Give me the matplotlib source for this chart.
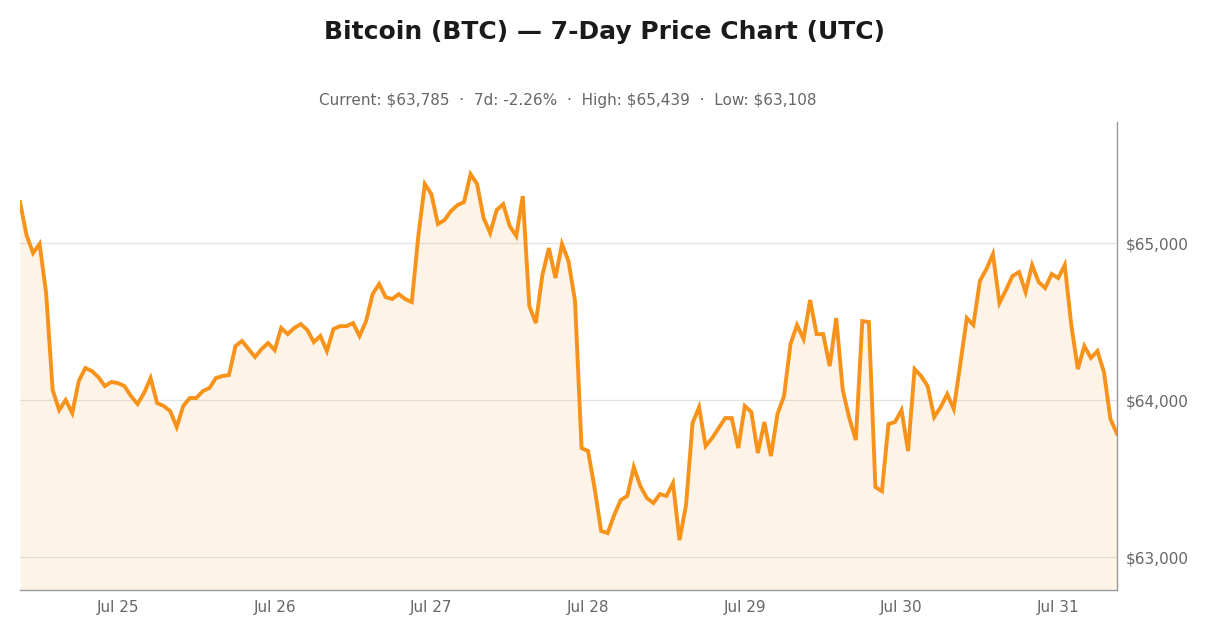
import numpy as np
import matplotlib
matplotlib.use("Agg")
import matplotlib.pyplot as plt
import matplotlib.dates as mdates
from matplotlib.ticker import FuncFormatter
import datetime as dt

plt.rcParams["font.family"] = ["DejaVu Sans"]

# Hourly BTC prices (USD), Jul 24 09:00 UTC -> Jul 31 09:00 UTC
prices = [
    65261, 65051, 64936, 64994, 64682, 64064, 63936, 64000, 63917, 64121,
    64204, 64185, 64146, 64089, 64115, 64108, 64089, 64025, 63975, 64045,
    64140, 63981, 63962, 63930, 63828, 63962, 64013, 64013, 64057, 64076,
    64140, 64153, 64159, 64344, 64376, 64325, 64274, 64325, 64363, 64318,
    64459, 64420, 64459, 64484, 64446, 64369, 64408, 64312, 64452, 64471,
    64471, 64490, 64408, 64503, 64675, 64739, 64656, 64643, 64675, 64643,
    64624, 65045, 65376, 65312, 65121, 65146, 65204, 65242, 65261, 65439,
    65376, 65159, 65064, 65210, 65248, 65108, 65045, 65299, 64599, 64490,
    64796, 64968, 64777, 64994, 64885, 64631, 63694, 63675, 63439, 63166,
    63153, 63268, 63363, 63389, 63573, 63452, 63376, 63344, 63401, 63389,
    63471, 63108, 63331, 63854, 63955, 63707, 63758, 63822, 63885, 63885,
    63694, 63962, 63924, 63662, 63860, 63643, 63911, 64025, 64357, 64478,
    64389, 64637, 64420, 64420, 64216, 64522, 64064, 63885, 63745, 64503,
    64497, 63446, 63420, 63847, 63860, 63936, 63675, 64197, 64153, 64089,
    63892, 63955, 64038, 63943, 64229, 64522, 64478, 64758, 64834, 64930,
    64618, 64701, 64790, 64815, 64688, 64860, 64752, 64713, 64803, 64777,
    64860, 64478, 64197, 64344, 64268, 64312, 64178, 63879, 63785,
]
start_time = dt.datetime(2024, 7, 24, 9, 0)
times = [start_time + dt.timedelta(hours=i) for i in range(len(prices))]

y_ticks = [63000, 64000, 65000]
x_tick_days = [dt.datetime(2024, 7, d) for d in range(25, 32)]

title = "Bitcoin (BTC) \u2014 7-Day Price Chart (UTC)"
subtitle = "Current: $63,785  \u00b7  7d: -2.26%  \u00b7  High: $65,439  \u00b7  Low: $63,108"

orange = "#F7931A"

fig = plt.figure(figsize=(12.1, 6.36), dpi=100)
ax = fig.add_axes([20/1210, 46/636, 1097/1210, 468/636])

ax.fill_between(times, prices, 62790, color=orange, alpha=0.1, linewidth=0)
ax.plot(times, prices, color=orange, linewidth=2.8, solid_joinstyle="miter")

ax.set_xlim(times[0], times[-1])
ax.set_ylim(62790, 65771)

ax.yaxis.tick_right()
ax.set_yticks(y_ticks)
ax.yaxis.set_major_formatter(FuncFormatter(lambda v, p: f"${v:,.0f}"))
ax.set_xticks(x_tick_days)
ax.set_xticklabels([d.strftime("%b ") + str(d.day) for d in x_tick_days])

ax.tick_params(axis="both", length=0, labelsize=11, labelcolor="#666666")
ax.tick_params(axis="y", pad=6)
ax.tick_params(axis="x", pad=7)

ax.grid(axis="y", color="#e3e3e3", linewidth=0.9)
ax.set_axisbelow(True)

for s in ["top", "left"]:
    ax.spines[s].set_visible(False)
for s in ["right", "bottom"]:
    ax.spines[s].set_color("#999999")
    ax.spines[s].set_linewidth(1.0)

fig.text(605/1210, 1 - 32/636, title, ha="center", va="center",
         fontsize=18, fontweight="bold", color="#1a1a1a")
fig.text(568/1210, 1 - 101/636, subtitle, ha="center", va="center",
         fontsize=11, color="#666666")

fig.savefig("out.png", dpi=100, facecolor="white")
